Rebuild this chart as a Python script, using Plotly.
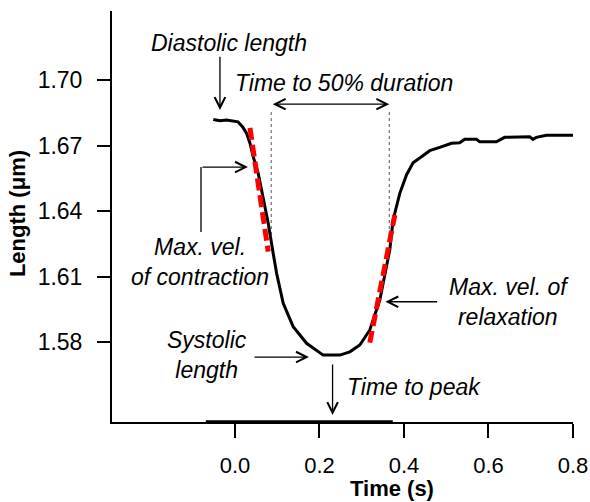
import plotly.graph_objects as go

# ---- data ----
time_s = [-0.0513, -0.0355, -0.0196, -0.0047, 0.0071, 0.0182, 0.0277, 0.0355, 0.0433, 0.0551,
          0.0669, 0.0787, 0.0905, 0.0986, 0.1142, 0.1378, 0.1695, 0.1931, 0.2087, 0.2482,
          0.2719, 0.2955, 0.3191, 0.3428, 0.3664, 0.3742, 0.3901, 0.4059, 0.4215, 0.4414,
          0.4610, 0.4846, 0.5123, 0.5319, 0.5437, 0.5714, 0.5792, 0.6187, 0.6383, 0.6974,
          0.7052, 0.7132, 0.7369, 0.80]
length_um = [1.6820, 1.6814, 1.6817, 1.6814, 1.6809, 1.6786, 1.6756, 1.6711, 1.6649, 1.6573,
             1.6466, 1.6345, 1.6207, 1.6116, 1.5979, 1.5872, 1.5796, 1.5765, 1.5742, 1.5742,
             1.5757, 1.5788, 1.5857, 1.5994, 1.6223, 1.6360, 1.6482, 1.6566, 1.6622, 1.6649,
             1.6677, 1.6692, 1.6711, 1.6713, 1.6729, 1.6729, 1.6718, 1.6718, 1.6738, 1.6741,
             1.6729, 1.6738, 1.6748, 1.6748]

contraction_t = [0.0355, 0.0787]
contraction_L = [1.6781, 1.6215]
relaxation_t = [0.3191, 0.3783]
relaxation_L = [1.5799, 1.6383]

t50_marks = [0.0858, 0.3652]
t50_L = [1.6854, 1.6276]
scale_bar_t = [-0.069, 0.3735]

x_ticks = [0.0, 0.2, 0.4, 0.6, 0.8]
x_ticklabels = ["0.0", "0.2", "0.4", "0.6", "0.8"]
y_ticks = [1.58, 1.61, 1.64, 1.67, 1.70]
y_ticklabels = ["1.58", "1.61", "1.64", "1.67", "1.70"]

FONT = "Liberation Sans, Arial, sans-serif"
FS = 23

fig = go.Figure()

# 50% duration dotted guides
for t in t50_marks:
    fig.add_trace(go.Scatter(x=[t, t], y=t50_L, mode="lines",
                             line=dict(color="#555555", width=1, dash="dot"),
                             hoverinfo="skip", showlegend=False))

# main trace
fig.add_trace(go.Scatter(x=time_s, y=length_um, mode="lines",
                         line=dict(color="black", width=3), showlegend=False))

# tangents
fig.add_trace(go.Scatter(x=contraction_t, y=contraction_L, mode="lines",
                         line=dict(color="#ff0000", width=5, dash="12px,5px"), showlegend=False))
fig.add_trace(go.Scatter(x=relaxation_t, y=relaxation_L, mode="lines",
                         line=dict(color="#ff0000", width=5, dash="12px,5px"), showlegend=False))

XR = [-0.291, 0.8]
YR = [1.5436, 1.7316]

fig.update_layout(
    width=590, height=502,
    margin=dict(l=112, r=17, t=11, b=80, autoexpand=False),
    paper_bgcolor="white", plot_bgcolor="white",
    font=dict(family=FONT, size=FS, color="black"),
    xaxis=dict(range=XR, showgrid=False, zeroline=False, showline=True, linecolor="black",
               linewidth=2, ticks="outside", ticklen=14, tickwidth=2, tickcolor="black",
               tickvals=x_ticks, ticktext=x_ticklabels, ticklabelstandoff=9,
               automargin=False, tickfont=dict(size=22)),
    yaxis=dict(range=YR, showgrid=False, zeroline=False, showline=True, linecolor="black",
               linewidth=2, ticks="outside", ticklen=13, tickwidth=2, tickcolor="black",
               tickvals=y_ticks, ticktext=y_ticklabels, ticklabelstandoff=10,
               automargin=False, tickfont=dict(size=23)),
)

# thicker scale segment on x axis
fig.add_shape(type="line", xref="x", yref="paper", x0=scale_bar_t[0], x1=scale_bar_t[1],
              y0=0, y1=0, line=dict(color="black", width=3.5))
# elbow of contraction arrow
fig.add_shape(type="line", xref="x", yref="y", x0=-0.0804, x1=-0.0804, y0=1.6305, y1=1.6602,
              line=dict(color="black", width=1.3))

ann = []
def arrow(x, y, ax, ay, both=False):
    ann.append(dict(x=x, y=y, ax=ax, ay=ay, xref="x", yref="y", axref="x", ayref="y",
                    text="", showarrow=True, arrowhead=5, arrowsize=1.6, arrowwidth=1.3,
                    arrowcolor="black", arrowside="end+start" if both else "end",
                    startarrowhead=5, startarrowsize=1.6, standoff=0, startstandoff=0))

def label(x, y, text):
    ann.append(dict(x=x, y=y, xref="x", yref="y", text="<i>" + text + "</i>", showarrow=False,
                    xanchor="center", yanchor="middle", font=dict(family=FONT, size=FS)))

arrow(-0.0355, 1.6863, -0.0355, 1.7114)
label(-0.0142, 1.7169, "Diastolic length")
arrow(0.3652, 1.6890, 0.0858, 1.6890, both=True)
label(0.2577, 1.6986, "Time to 50% duration")
arrow(0.0307, 1.6602, -0.0804, 1.6602)
label(-0.0827, 1.6168, "Max. vel.<br>of contraction")
arrow(0.175, 1.5733, 0.0426, 1.5733)
label(-0.0662, 1.5742, "Systolic<br>length")
arrow(0.231, 1.5468, 0.231, 1.5706)
label(0.4243, 1.5596, "Time to peak")
arrow(0.356, 1.5986, 0.482, 1.5986)
label(0.6478, 1.5985, "Max. vel. of<br>relaxation")

# axis titles
ann.append(dict(x=0.371, y=-0.161, xref="x", yref="paper", text="<b>Time (s)</b>",
                showarrow=False, xanchor="center", yanchor="middle",
                font=dict(family=FONT, size=22)))
ann.append(dict(x=-0.206, y=0.506, xref="paper", yref="paper", text="<b>Length (\u03bcm)</b>",
                showarrow=False, xanchor="center", yanchor="middle", textangle=-90,
                font=dict(family=FONT, size=22)))

fig.update_layout(annotations=ann)

fig.write_html("out.html")
